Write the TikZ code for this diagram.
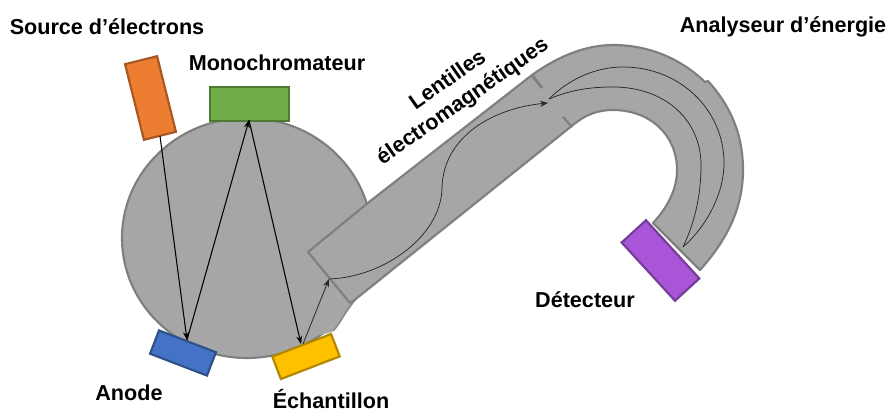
\documentclass[tikz,border=0pt]{standalone}
\usepackage{fontspec}
\setmainfont{Liberation Sans}
\usetikzlibrary{arrows.meta}
\definecolor{gfill}{HTML}{A6A6A6}
\definecolor{gline}{HTML}{7F7F7F}
\tikzset{
  lab/.style={font=\fontsize{16.2pt}{18pt}\selectfont\bfseries,inner sep=0pt,anchor=center},
  box/.style={draw=#1!70!black,line width=1.6pt,inner sep=0pt,fill=#1},
  ray/.style={black,line width=0.8pt,-{Stealth[length=6pt,width=4.5pt]}},
  thin ray/.style={black!85,line width=0.55pt},
  body/.style={fill=gfill,draw=gline,line width=1.6pt,line join=round}
}
\definecolor{orng}{HTML}{ED7D31}
\definecolor{grn}{HTML}{70AD47}
\definecolor{blu}{HTML}{4472C4}
\definecolor{yel}{HTML}{FFC000}
\definecolor{pur}{HTML}{A855D8}
\begin{document}
\begin{tikzpicture}[x=0.75pt,y=-0.75pt]
\useasboundingbox (0,0) rectangle (889,410);
% chamber
\draw[body] (247,238) ellipse [x radius=125,y radius=120];
\fill[gfill] (300,340) -- (332,332) -- (345,315) -- (358,297) -- (330,260) -- (300,280) -- cycle;
\draw[gline!70!gfill,line width=1.2pt] (333,331) .. controls (342,322) and (346,308) .. (357,298);
% analyser body
\draw[body] (350,303) -- (357,298) -- (573,125)
  .. controls (585,115) and (597,110) .. (613,110)
  .. controls (650,110) and (677,135) .. (677,170)
  .. controls (677,190) and (667,208) .. (653,223)
  -- (700,270)
  .. controls (727,240) and (743,208) .. (743,170)
  .. controls (743,130) and (727,102) .. (708,81)
  -- (705,82)
  .. controls (680,58) and (648,45) .. (613,45)
  .. controls (585,45) and (557,57) .. (532,75)
  -- (369,202) -- (308,252) -- cycle;
% dividers
\draw[gline,line width=2.2pt] (532,75) -- (542,88);
\draw[gline,line width=1.6pt] (563,117) -- (572,127);
% devices
\node[box=orng,minimum width=33*0.75pt,minimum height=78*0.75pt,rotate=14] (src) at (150.5,98) {};
\node[box=grn,minimum width=79*0.75pt,minimum height=34*0.75pt] (mono) at (249.5,104) {};
\node[box=blu,minimum width=61*0.75pt,minimum height=25*0.75pt,rotate=-21] (anode) at (183,353) {};
\node[box=yel,minimum width=63*0.75pt,minimum height=24*0.75pt,rotate=21] (ech) at (306,356.5) {};
\node[box=pur,minimum width=79*0.75pt,minimum height=33*0.75pt,rotate=-47.5] (det) at (660.5,260.5) {};
% ray end points
\coordinate (a1) at (160,136);
\coordinate (a2) at (187,340);
\coordinate (m1) at (249,120);
\coordinate (e1) at (301,344);
\coordinate (e2) at (303,344);
\coordinate (t1) at (329,279);
\coordinate (t2) at (548,103);
\coordinate (f1) at (549,99);
\coordinate (d1) at (683,247);
% rays
\draw[ray] (a1) -- (a2);
\draw[ray] (a2) -- (m1);
\draw[ray] (m1) -- (e1);
\draw[black!85,line width=0.6pt,-{Stealth[length=6pt,width=4.5pt]}] (e2) -- (t1);
\draw[thin ray,-{Stealth[length=6pt,width=4.5pt]}] (t1) .. controls (385,277) and (442,235) .. (442,187)
  .. controls (444,135) and (495,108) .. (t2);
\draw[thin ray] (f1) .. controls (570,78) and (597,67) .. (623,67)
  .. controls (680,67) and (724,110) .. (724,163)
  .. controls (724,195) and (705,228) .. (d1);
\draw[thin ray] (f1) .. controls (570,90) and (590,87) .. (613,87)
  .. controls (665,87) and (701,120) .. (701,165)
  .. controls (701,195) and (695,222) .. (d1);
% labels
\node[lab] (l1) at (107,27) {Source d’électrons};
\node[lab] (l2) at (277,63) {Monochromateur};
\node[lab] (l3) at (783,27) {Analyseur d’énergie};
\node[lab] (l4) at (585,300) {Détecteur};
\node[lab] (l5) at (129,393) {Anode};
\node[lab] (l6) at (331,399) {Échantillon};
\node[lab,rotate=35] (l7) at (447,79) {Lentilles};
\node[lab,rotate=35] (l8) at (463,102) {électromagnétiques};
\end{tikzpicture}
\end{document}
